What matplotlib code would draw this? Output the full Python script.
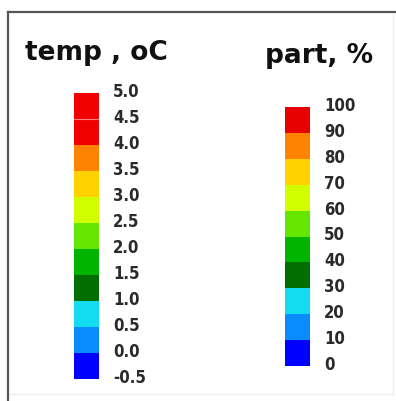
import numpy as np
import matplotlib.pyplot as plt
from matplotlib.colors import ListedColormap, BoundaryNorm
from matplotlib.cm import ScalarMappable
import matplotlib.transforms as mtransforms

# legend data
tempBounds = [-0.5, 0.0, 0.5, 1.0, 1.5, 2.0, 2.5, 3.0, 3.5, 4.0, 4.5, 5.0]
tempLabels = ["-0.5", "0.0", "0.5", "1.0", "1.5", "2.0", "2.5", "3.0", "3.5", "4.0", "4.5", "5.0"]
tempColors = ["#0000ff", "#0a8cff", "#14dcf0", "#006e00", "#00b400", "#64e600",
              "#d2ff00", "#ffd200", "#ff8200", "#f00000", "#f00000"]

partBounds = [0, 10, 20, 30, 40, 50, 60, 70, 80, 90, 100]
partLabels = ["0", "10", "20", "30", "40", "50", "60", "70", "80", "90", "100"]
partColors = ["#0000ff", "#0a8cff", "#14dcf0", "#006e00", "#00b400", "#64e600",
              "#d2ff00", "#ffd200", "#ff8200", "#e60000"]

W, H = 396, 401
fig = plt.figure(figsize=(W / 100, H / 100), dpi=100)
fig.patch.set_facecolor("white")

# frame: dark top/left, light right/bottom
fig.add_artist(plt.Line2D([8 / W, 8 / W], [0, 1 - 12 / H], color="#555555", lw=1.6))
fig.add_artist(plt.Line2D([8 / W, 1], [1 - 12 / H, 1 - 12 / H], color="#555555", lw=1.6))
fig.add_artist(plt.Line2D([393 / W, 393 / W], [1 - 394 / H, 1 - 14 / H], color="#eeeeee", lw=1))
fig.add_artist(plt.Line2D([10 / W, 393 / W], [1 - 394 / H, 1 - 394 / H], color="#eeeeee", lw=1))


def makeBar(left, top, bottom, colors, bounds, labels):
  ax = fig.add_axes([left / W, 1 - bottom / H, 25 / W, (bottom - top) / H])
  cmap = ListedColormap(colors)
  norm = BoundaryNorm(bounds, cmap.N)
  cb = fig.colorbar(ScalarMappable(norm=norm, cmap=cmap), cax=ax, ticks=bounds, drawedges=False)
  cb.outline.set_visible(False)
  cb.ax.set_yticklabels(labels)
  cb.ax.tick_params(length=0, pad=10)
  offset = mtransforms.ScaledTranslation(0, 3 / 100, fig.dpi_scale_trans)
  for lbl in cb.ax.get_yticklabels():
    lbl.set_fontfamily("DejaVu Sans")
    lbl.set_fontstretch("condensed")
    lbl.set_fontweight("bold")
    lbl.set_fontsize(12)
    lbl.set_color("#2a2a2a")
    lbl.set_transform(lbl.get_transform() + offset)
  return cb


tempBar = makeBar(74, 93, 379, tempColors, tempBounds, tempLabels)
tempBar.ax.axhline(4.5, color="#ff8080", lw=0.8)
partBar = makeBar(285, 107, 366, partColors, partBounds, partLabels)

fig.text(96 / W, 1 - 60 / H, "temp , oC", ha="center", va="baseline",
         fontsize=19, fontweight="bold", color="#111111")
fig.text(319 / W, 1 - 63 / H, "part, %", ha="center", va="baseline",
         fontsize=19, fontweight="bold", color="#111111")

fig.savefig("out.png", dpi=100, facecolor="white")
